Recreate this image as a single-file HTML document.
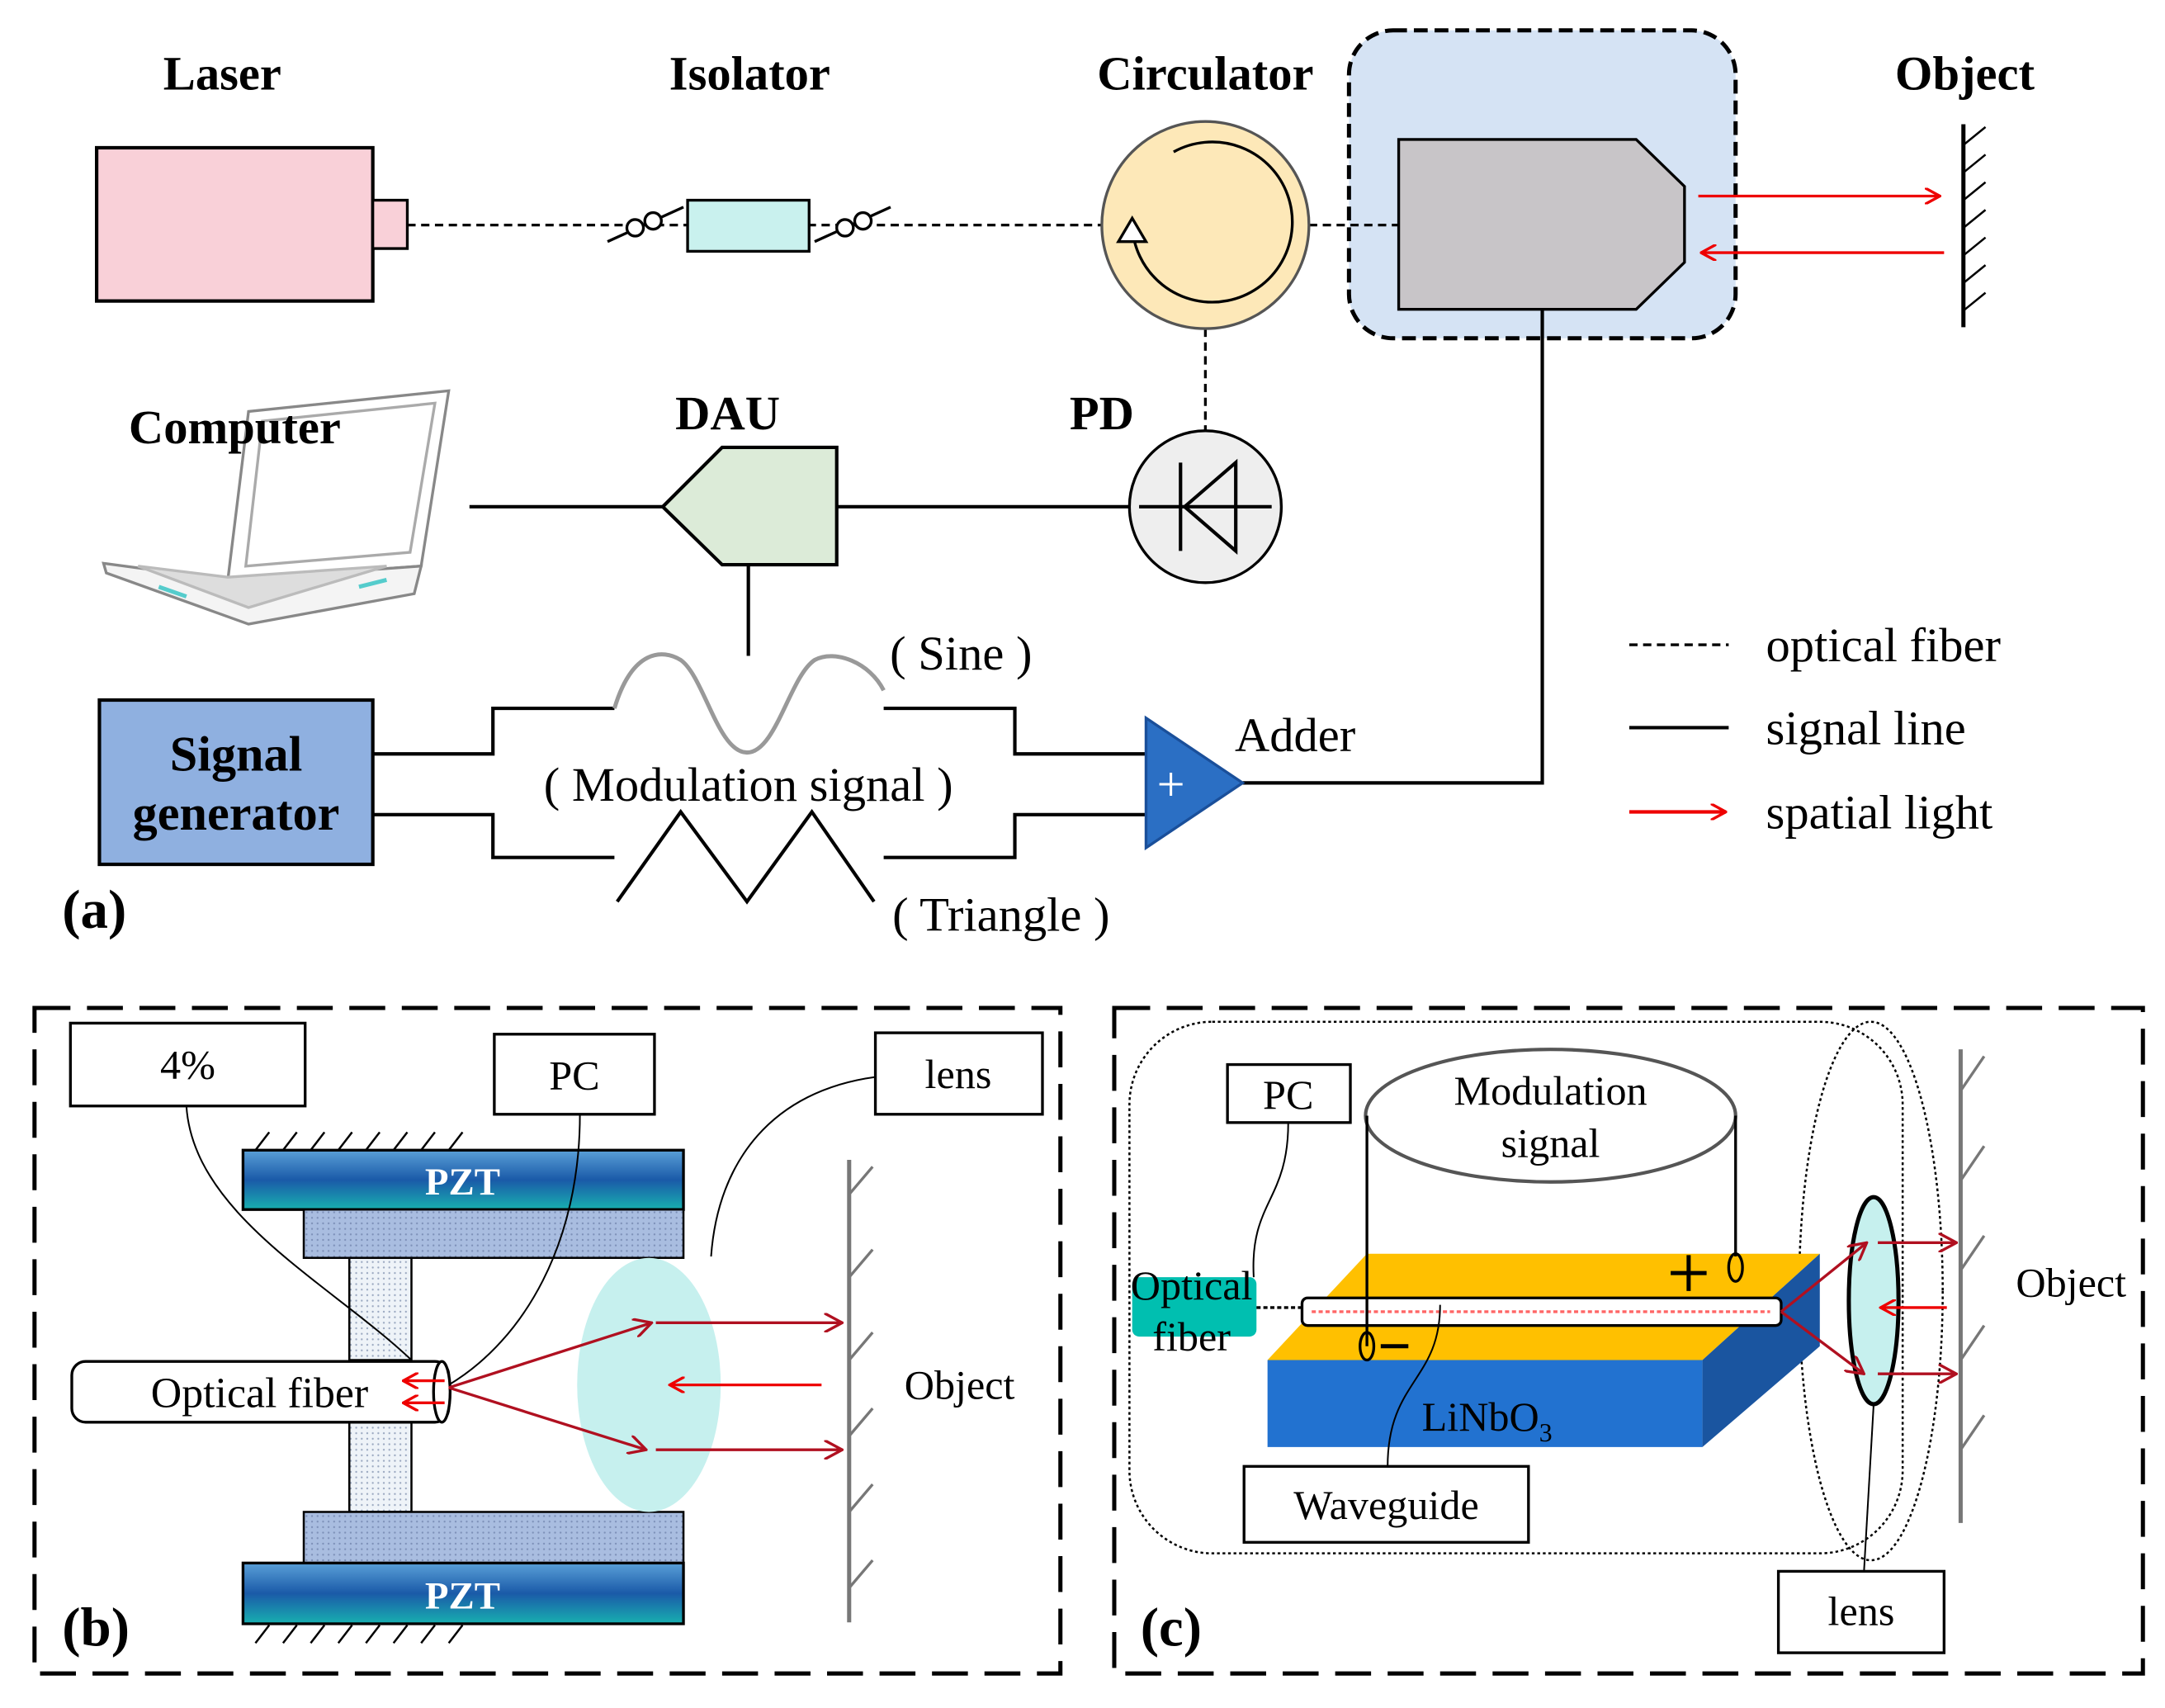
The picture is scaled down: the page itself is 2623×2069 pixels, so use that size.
<!DOCTYPE html>
<html><head><meta charset="utf-8"><style>
html,body{margin:0;padding:0;background:#fff;}
svg{display:block;}
text{font-family:"Liberation Serif",serif;}
</style></head><body>
<svg width="2623" height="2069" viewBox="0 0 1568 1237" preserveAspectRatio="none" xmlns="http://www.w3.org/2000/svg">
<defs>
<linearGradient id="pzt" x1="0" y1="0" x2="0" y2="1">
<stop offset="0" stop-color="#5aa0d8"/><stop offset="0.5" stop-color="#1a5aa8"/><stop offset="1" stop-color="#18b0b0"/>
</linearGradient>
<pattern id="dots" width="4" height="4" patternUnits="userSpaceOnUse"><rect width="4" height="4" fill="#a9bde0"/><circle cx="2" cy="2" r="0.7" fill="#7d90b8"/></pattern>
<pattern id="dots2" width="4" height="4" patternUnits="userSpaceOnUse"><rect width="4" height="4" fill="#eef3f8"/><circle cx="2" cy="2" r="0.7" fill="#9aa8c0"/></pattern>
<marker id="ra" markerWidth="12" markerHeight="12" refX="11" refY="6" orient="auto" markerUnits="userSpaceOnUse"><path d="M0,0 L11,6 L0,12" fill="none" stroke="#e00" stroke-width="2"/></marker>
<marker id="dr" markerWidth="14" markerHeight="14" refX="13" refY="7" orient="auto" markerUnits="userSpaceOnUse"><path d="M0,0 L13,7 L0,14" fill="none" stroke="#b01020" stroke-width="2"/></marker>
</defs>
<rect width="1568" height="1237" fill="#fff"/>
<!-- laptop (behind text) -->
<g stroke="#888" stroke-width="2" fill="#fff">
<polygon points="180,298 325,283 305,410 165,420"/>
<polygon points="190,305 315,292 297,400 178,410" fill="#fff" stroke="#aaa"/>
<polygon points="75,408 165,420 305,410 300,430 180,452 77,415" fill="#f4f4f4"/>
<polygon points="100,410 165,418 280,410 180,440" fill="#ddd" stroke="#bbb"/>
</g>
<line x1="115" y1="425" x2="135" y2="432" stroke="#5cc" stroke-width="3"/><line x1="260" y1="425" x2="280" y2="420" stroke="#5cc" stroke-width="3"/>
<!-- (a) labels -->
<g font-weight="bold" font-size="35" text-anchor="middle">
<text x="161" y="65">Laser</text><text x="543" y="65">Isolator</text><text x="873" y="65">Circulator</text>
<text x="1117" y="65">Probe</text><text x="1423" y="65">Object</text>
<text x="170" y="321">Computer</text><text x="527" y="311">DAU</text><text x="798" y="311">PD</text>
</g>
<!-- probe box -->
<rect x="977" y="22" width="280" height="223" rx="32" fill="#d5e3f4" stroke="#000" stroke-width="3" stroke-dasharray="10,5"/>
<!-- laser -->
<rect x="70" y="107" width="200" height="111" fill="#f9d0d8" stroke="#000" stroke-width="2.5"/>
<rect x="270" y="145" width="25" height="35" fill="#f9d0d8" stroke="#000" stroke-width="2"/>
<g stroke="#000" stroke-width="2" stroke-dasharray="6,4" fill="none">
<line x1="295" y1="163" x2="800" y2="163"/>
<line x1="948" y1="163" x2="1013" y2="163"/>
<line x1="873" y1="238" x2="873" y2="312"/>
<line x1="1180" y1="467" x2="1252" y2="467"/>
</g>
<rect x="498" y="145" width="88" height="37" fill="#c9f1ee" stroke="#000" stroke-width="2"/>
<g fill="#fff" stroke="#000" stroke-width="2">
<line x1="440" y1="175" x2="495" y2="150"/><circle cx="460" cy="165" r="6"/><circle cx="473" cy="160" r="6"/>
<line x1="590" y1="175" x2="645" y2="150"/><circle cx="612" cy="165" r="6"/><circle cx="625" cy="160" r="6"/>
</g>
<!-- circulator -->
<circle cx="873" cy="163" r="75" fill="#fde8b8" stroke="#555" stroke-width="2"/>
<path d="M820,163 A58,58 0 1 0 850,110" fill="none" stroke="#000" stroke-width="2"/>
<path d="M810,175 L820,158 L830,175 Z" fill="#fff" stroke="#000" stroke-width="2"/>
<!-- probe -->
<polygon points="1013,101 1185,101 1220,135 1220,190 1185,224 1013,224" fill="#c8c5c8" stroke="#000" stroke-width="2"/>
<line x1="1230" y1="142" x2="1405" y2="142" stroke="#e00" stroke-width="2" marker-end="url(#ra)"/>
<line x1="1408" y1="183" x2="1232" y2="183" stroke="#e00" stroke-width="2" marker-end="url(#ra)"/>
<line x1="1422" y1="90" x2="1422" y2="237" stroke="#000" stroke-width="3"/>
<g stroke="#000" stroke-width="1.5"><line x1="1422" y1="105" x2="1438" y2="92"/><line x1="1422" y1="125" x2="1438" y2="112"/><line x1="1422" y1="145" x2="1438" y2="132"/><line x1="1422" y1="165" x2="1438" y2="152"/><line x1="1422" y1="185" x2="1438" y2="172"/><line x1="1422" y1="205" x2="1438" y2="192"/><line x1="1422" y1="225" x2="1438" y2="212"/></g>
<!-- signal lines -->
<g stroke="#000" stroke-width="2.5" fill="none">
<polyline points="1117,224 1117,567 900,567"/>
<line x1="340" y1="367" x2="480" y2="367"/><line x1="606" y1="367" x2="818" y2="367"/>
<line x1="542" y1="409" x2="542" y2="475"/>
<polyline points="270,546 357,546 357,513 445,513"/>
<polyline points="640,513 735,513 735,546 830,546"/>
<polyline points="270,590 357,590 357,621 445,621"/>
<polyline points="640,621 735,621 735,590 830,590"/>
<polyline points="447,653 493,588 541,653 588,588 633,653"/>
<line x1="1180" y1="527" x2="1252" y2="527"/>
</g>
<path d="M445,513 C458,470 480,470 493,478 C510,490 520,545 541,545 C562,545 572,490 590,478 C605,470 630,480 640,500" fill="none" stroke="#999" stroke-width="3"/>
<!-- PD -->
<circle cx="873" cy="367" r="55" fill="#eee" stroke="#000" stroke-width="2"/>
<g stroke="#000" stroke-width="2.5" fill="none"><line x1="825" y1="367" x2="921" y2="367"/><polygon points="895,335 895,399 858,367"/><line x1="855" y1="335" x2="855" y2="399"/></g>
<!-- DAU -->
<polygon points="480,367 523,324 606,324 606,409 523,409" fill="#dcebd8" stroke="#000" stroke-width="2.5"/>
<!-- signal generator -->
<rect x="72" y="507" width="198" height="119" fill="#8fb0e0" stroke="#000" stroke-width="2.5"/>
<g font-weight="bold" font-size="36" text-anchor="middle"><text x="171" y="558">Signal</text><text x="171" y="601">generator</text></g>
<!-- adder -->
<polygon points="830,520 900,567 830,614" fill="#2b6fc4" stroke="#1a4f9a" stroke-width="2"/>
<text x="848" y="580" font-size="36" fill="#fff" text-anchor="middle">+</text>
<g font-size="35" text-anchor="middle">
<text x="696" y="485">( Sine )</text><text x="542" y="580">( Modulation signal )</text><text x="725" y="674">( Triangle )</text>
<text x="938" y="544">Adder</text>
</g>
<g font-size="35"><text x="1279" y="479">optical fiber</text><text x="1279" y="539">signal line</text><text x="1279" y="600">spatial light</text></g>
<line x1="1180" y1="588" x2="1250" y2="588" stroke="#e00" stroke-width="2.5" marker-end="url(#ra)"/>
<text x="45" y="672" font-size="40" font-weight="bold">(a)</text>

<!-- (b) -->
<rect x="25" y="730" width="743" height="482" fill="none" stroke="#000" stroke-width="3" stroke-dasharray="26,12"/>
<g stroke="#000" stroke-width="1.5"><line x1="185" y1="833" x2="195" y2="820"/><line x1="205" y1="833" x2="215" y2="820"/><line x1="225" y1="833" x2="235" y2="820"/><line x1="245" y1="833" x2="255" y2="820"/><line x1="265" y1="833" x2="275" y2="820"/><line x1="285" y1="833" x2="295" y2="820"/><line x1="305" y1="833" x2="315" y2="820"/><line x1="325" y1="833" x2="335" y2="820"/>
<line x1="185" y1="1190" x2="195" y2="1177"/><line x1="205" y1="1190" x2="215" y2="1177"/><line x1="225" y1="1190" x2="235" y2="1177"/><line x1="245" y1="1190" x2="255" y2="1177"/><line x1="265" y1="1190" x2="275" y2="1177"/><line x1="285" y1="1190" x2="295" y2="1177"/><line x1="305" y1="1190" x2="315" y2="1177"/><line x1="325" y1="1190" x2="335" y2="1177"/></g>
<rect x="176" y="833" width="319" height="43" fill="url(#pzt)" stroke="#000" stroke-width="2"/>
<rect x="220" y="876" width="275" height="35" fill="url(#dots)" stroke="#000" stroke-width="1.5"/>
<rect x="253" y="911" width="45" height="74" fill="url(#dots2)" stroke="#000" stroke-width="1.5"/>
<rect x="253" y="1030" width="45" height="65" fill="url(#dots2)" stroke="#000" stroke-width="1.5"/>
<rect x="220" y="1095" width="275" height="37" fill="url(#dots)" stroke="#000" stroke-width="1.5"/>
<rect x="176" y="1132" width="319" height="44" fill="url(#pzt)" stroke="#000" stroke-width="2"/>
<g font-weight="bold" font-size="28" fill="#fff" text-anchor="middle"><text x="335" y="865">PZT</text><text x="335" y="1165">PZT</text></g>
<rect x="52" y="986" width="273" height="44" rx="10" fill="#fff" stroke="#000" stroke-width="2"/>
<ellipse cx="320" cy="1008" rx="6" ry="22" fill="#fff" stroke="#000" stroke-width="2"/>
<text x="188" y="1019" font-size="31" text-anchor="middle">Optical fiber</text>
<ellipse cx="470" cy="1003" rx="52" ry="92" fill="#c6f0ee"/>
<g stroke="#b01020" stroke-width="2" fill="none">
<line x1="325" y1="1005" x2="472" y2="958" marker-end="url(#dr)"/>
<line x1="325" y1="1005" x2="468" y2="1050" marker-end="url(#dr)"/>
<line x1="475" y1="958" x2="610" y2="958" marker-end="url(#dr)"/>
<line x1="475" y1="1050" x2="610" y2="1050" marker-end="url(#dr)"/>
<line x1="595" y1="1003" x2="485" y2="1003" stroke="#e00" marker-end="url(#ra)"/>
<line x1="322" y1="1000" x2="292" y2="1000" stroke="#e00" marker-end="url(#ra)"/>
<line x1="322" y1="1016" x2="292" y2="1016" stroke="#e00" marker-end="url(#ra)"/>
</g>
<line x1="615" y1="840" x2="615" y2="1175" stroke="#777" stroke-width="3"/>
<g stroke="#777" stroke-width="2"><line x1="615" y1="865" x2="632" y2="845"/><line x1="615" y1="925" x2="632" y2="905"/><line x1="615" y1="985" x2="632" y2="965"/><line x1="615" y1="1040" x2="632" y2="1020"/><line x1="615" y1="1095" x2="632" y2="1075"/><line x1="615" y1="1150" x2="632" y2="1130"/></g>
<g fill="none" stroke="#000" stroke-width="1.2">
<path d="M135,801 C140,880 240,930 298,985"/><path d="M420,807 C420,900 380,970 325,1003"/><path d="M634,780 C560,790 520,840 515,910"/></g>
<g fill="#fff" stroke="#000" stroke-width="2">
<rect x="51" y="741" width="170" height="60"/><rect x="358" y="749" width="116" height="58"/><rect x="634" y="748" width="121" height="59"/></g>
<g font-size="30" text-anchor="middle"><text x="136" y="781">4%</text><text x="416" y="789">PC</text><text x="694" y="788">lens</text><text x="695" y="1013">Object</text></g>
<text x="45" y="1192" font-size="40" font-weight="bold">(b)</text>

<!-- (c) -->
<rect x="807" y="730" width="745" height="482" fill="none" stroke="#000" stroke-width="3" stroke-dasharray="26,12"/>
<rect x="818" y="740" width="560" height="385" rx="60" fill="none" stroke="#000" stroke-width="1.5" stroke-dasharray="2,2"/>
<ellipse cx="1355" cy="935" rx="52" ry="195" fill="none" stroke="#000" stroke-width="1.5" stroke-dasharray="2,2"/>
<ellipse cx="1123" cy="808" rx="134" ry="48" fill="#fff" stroke="#555" stroke-width="2.5"/>
<g font-size="30" text-anchor="middle"><text x="1123" y="800">Modulation</text><text x="1123" y="838">signal</text></g>
<polygon points="918,985 990,908 1318,908 1233,985" fill="#ffc000"/>
<rect x="918" y="985" width="315" height="63" fill="#2272d0"/>
<polygon points="1233,985 1318,908 1318,975 1233,1048" fill="#1a55a0"/>
<rect x="820" y="925" width="90" height="43" rx="5" fill="#00bfb0"/>
<line x1="910" y1="947" x2="943" y2="947" stroke="#000" stroke-width="2" stroke-dasharray="3,2"/>
<rect x="943" y="940" width="347" height="20" rx="4" fill="#fff" stroke="#000" stroke-width="2"/>
<line x1="950" y1="950" x2="1282" y2="950" stroke="#f66" stroke-width="2" stroke-dasharray="3,2"/>
<g stroke="#000" stroke-width="2" fill="none">
<polyline points="990,975 990,808"/><polyline points="1257,910 1257,808"/>
<ellipse cx="990" cy="975" rx="5" ry="10"/><ellipse cx="1257" cy="918" rx="5" ry="10"/>
<line x1="1210" y1="922" x2="1236" y2="922" stroke-width="3"/><line x1="1223" y1="909" x2="1223" y2="935" stroke-width="3"/>
<line x1="1000" y1="975" x2="1020" y2="975" stroke-width="3"/>
</g>
<text x="1077" y="1036" font-size="30" text-anchor="middle">LiNbO<tspan font-size="19" dy="8">3</tspan></text>
<g font-size="30" text-anchor="middle"><text x="863" y="941">Optical</text><text x="863" y="978">fiber</text></g>
<ellipse cx="1357" cy="942" rx="18" ry="75" fill="#c6f0ee" stroke="#000" stroke-width="3"/>
<g stroke="#b01020" stroke-width="2" fill="none">
<line x1="1290" y1="950" x2="1352" y2="900" marker-end="url(#dr)"/>
<line x1="1290" y1="950" x2="1350" y2="995" marker-end="url(#dr)"/>
<line x1="1360" y1="900" x2="1417" y2="900" marker-end="url(#dr)"/>
<line x1="1360" y1="995" x2="1417" y2="995" marker-end="url(#dr)"/>
<line x1="1410" y1="947" x2="1362" y2="947" stroke="#e00" marker-end="url(#ra)"/>
</g>
<line x1="1420" y1="760" x2="1420" y2="1103" stroke="#777" stroke-width="3"/>
<g stroke="#777" stroke-width="2"><line x1="1420" y1="790" x2="1437" y2="765"/><line x1="1420" y1="855" x2="1437" y2="830"/><line x1="1420" y1="920" x2="1437" y2="895"/><line x1="1420" y1="985" x2="1437" y2="960"/><line x1="1420" y1="1050" x2="1437" y2="1025"/></g>
<g fill="none" stroke="#000" stroke-width="1.2"><path d="M933,813 C933,870 905,870 908,925"/><path d="M1043,945 C1043,1000 1005,1000 1005,1062"/><path d="M1357,1017 L1350,1138"/></g>
<g fill="#fff" stroke="#000" stroke-width="2">
<rect x="889" y="771" width="89" height="42"/><rect x="901" y="1062" width="206" height="55"/><rect x="1288" y="1138" width="120" height="59"/></g>
<g font-size="30" text-anchor="middle"><text x="933" y="803">PC</text><text x="1004" y="1100">Waveguide</text><text x="1348" y="1177">lens</text><text x="1500" y="939">Object</text></g>
<text x="826" y="1192" font-size="40" font-weight="bold">(c)</text>
</svg>
</body></html>
